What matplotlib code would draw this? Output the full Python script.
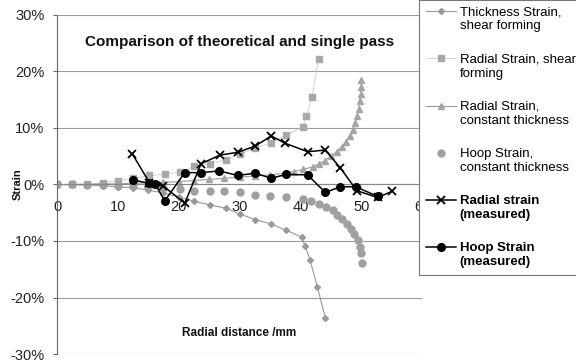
import matplotlib
matplotlib.use("Agg")
import matplotlib.pyplot as plt
from matplotlib.ticker import FuncFormatter

plt.rcParams['font.family'] = ['Liberation Sans', 'DejaVu Sans']

# thickness strain, shear forming (grey diamonds)
thick_x = [0, 2.5, 5, 7.5, 10, 12.5, 15, 17.5, 20, 22.6, 25.1, 27.8, 30, 32.6, 35.2, 37.7, 40.2, 40.8, 41.6, 42.8, 44.1]
thick_y = [0, -0.05, -0.1, -0.2, -0.4, -0.6, -1.0, -1.5, -2.2, -3.0, -3.6, -4.2, -5.2, -6.2, -7.0, -8.1, -9.3, -10.9, -13.4, -18.1, -23.6]

# radial strain, shear forming (grey squares)
rshear_x = [0, 2.5, 5, 7.5, 10, 12.5, 15.2, 17.7, 20.2, 22.6, 25.1, 27.8, 30.0, 32.6, 35.2, 37.7, 40.4, 41.0, 41.9, 43.0]
rshear_y = [0, 0, 0.1, 0.3, 0.7, 1.1, 1.6, 1.8, 2.2, 3.2, 3.7, 4.4, 5.4, 6.4, 7.4, 8.8, 10.2, 12.1, 15.5, 22.2]

# radial strain, constant thickness (grey triangles)
rconst_x = [0, 2.5, 5, 7.5, 10, 12.5, 15, 17.5, 20, 22.5, 25, 27.5, 30, 32.5, 35, 37.5, 39, 40.5, 42, 43, 44, 45,
            46, 46.8, 47.5, 48.1, 48.6, 49.0, 49.3, 49.6, 49.8, 49.9, 50.0, 50.0]
rconst_y = [0, 0, 0, 0.1, 0.1, 0.2, 0.3, 0.4, 0.5, 0.7, 0.9, 1.1, 1.3, 1.5, 1.7, 2.0, 2.3, 2.7, 3.1, 3.6, 4.2, 5.0,
            5.8, 6.7, 7.6, 8.6, 9.7, 10.9, 12.1, 13.4, 14.7, 16.0, 17.3, 18.5]

# hoop strain, constant thickness (grey circles)
hconst_x = [0, 2.5, 5, 7.5, 10, 12.5, 15, 17.5, 20.2, 22.6, 25.2, 27.5, 30.1, 32.6, 35.0, 37.7, 40.4, 41.7, 43.1,
            44.2, 45.3, 46.1, 46.9, 47.6, 48.3, 48.9, 49.4, 49.8, 49.9, 50.1]
hconst_y = [0, 0, -0.05, -0.1, -0.2, -0.3, -0.4, -0.6, -0.8, -1.1, -1.2, -1.2, -1.4, -1.8, -2.0, -2.3, -2.6, -2.9,
            -3.4, -4.0, -4.6, -5.4, -6.1, -7.0, -7.8, -8.7, -9.9, -11.1, -12.2, -13.9]

# measured radial strain (black x)
rmeas_x = [12.4, 15.2, 17.5, 21.0, 23.7, 26.8, 29.7, 32.6, 35.2, 37.5, 41.2, 44.1, 46.6, 49.3, 52.7, 55.1]
rmeas_y = [5.4, 0.3, -0.3, -3.3, 3.7, 5.2, 5.7, 6.8, 8.6, 7.3, 5.8, 6.1, 2.9, -1.1, -2.3, -1.2]

# measured hoop strain (black circles)
hmeas_x = [12.5, 15.2, 16.1, 17.7, 21.0, 23.6, 26.7, 29.7, 32.6, 35.2, 37.7, 41.2, 44.1, 46.6, 49.1, 52.7]
hmeas_y = [0.8, 0.2, 0.1, -2.9, 2.1, 2.1, 2.4, 1.6, 2.0, 1.1, 1.8, 1.7, -1.4, -0.4, -0.4, -2.1]

labels = ["Thickness Strain,\nshear forming", "Radial Strain, shear\nforming",
          "Radial Strain,\nconstant thickness", "Hoop Strain,\nconstant thickness",
          "Radial strain\n(measured)", "Hoop Strain\n(measured)"]

grey = '#999999'

fig = plt.figure(figsize=(5.76, 3.62), dpi=100)
ax = fig.add_axes([57 / 576, 1 - 354 / 362, 365 / 576, 339 / 362])

ax.plot(thick_x, thick_y, color=grey, lw=0.8, marker='D', ms=3, label=labels[0])
ax.plot(rshear_x, rshear_y, color='#cccccc', lw=0.6, marker='s', ms=4.8, mfc='#a8a8a8', mec='#a8a8a8', label=labels[1])
ax.plot(rconst_x, rconst_y, color=grey, lw=0.8, marker='^', ms=4.2, mfc='#a5a5a5', mec='#a5a5a5', label=labels[2])
ax.plot(hconst_x, hconst_y, ls='none', marker='o', ms=5, color='#a0a0a0', label=labels[3])
ax.plot(rmeas_x, rmeas_y, color='black', lw=1.1, marker='x', ms=5.5, mew=1.3, label=labels[4], zorder=5)
ax.plot(hmeas_x, hmeas_y, color='black', lw=1.1, marker='o', ms=5.5, label=labels[5], zorder=5)

ax.set_xlim(0, 60)
ax.set_ylim(-30, 30)
ax.set_yticks(range(-30, 31, 10))
ax.set_xticks(range(0, 61, 10))
ax.yaxis.set_major_formatter(FuncFormatter(lambda v, p: '%d%%' % v))
ax.grid(axis='y', color='#9a9a9a', lw=0.8)
ax.set_axisbelow(True)

for s in ['top', 'right']:
    ax.spines[s].set_visible(False)
ax.spines['bottom'].set_position(('data', 0))
ax.spines['bottom'].set_color('#888888')
ax.spines['left'].set_color('#666666')
ax.tick_params(axis='y', length=3, width=0.8, color='#666666', labelsize=10.5, labelcolor='#222222', pad=6)
ax.tick_params(axis='x', length=0, labelsize=10.5, labelcolor='#222222', pad=11)

ax.text(0.5, 0.92, "Comparison of theoretical and single pass", transform=ax.transAxes,
        ha='center', va='center', fontsize=11, fontweight='bold', color='#111111')
ax.text(0.5, 0.063, "Radial distance /mm", transform=ax.transAxes,
        ha='center', va='center', fontsize=8.5, fontweight='bold', color='#111111')
fig.text(18 / 576, 1 - 184 / 362, "Strain", rotation=90, ha='center', va='center',
         fontsize=8, fontweight='bold', color='#111111')

leg = fig.legend(loc='upper left', bbox_to_anchor=(419 / 576, 1.0), fontsize=9.5,
                 frameon=True, fancybox=False, edgecolor='#777777', framealpha=1,
                 borderpad=0.5, labelspacing=1.62, handlelength=2.27, handletextpad=0.3,
                 borderaxespad=0)
leg.get_frame().set_linewidth(0.8)
for t in leg.get_texts()[4:]:
    t.set_fontweight('bold')
# put the handle next to the first line of each label
if hasattr(leg, '_legend_handle_box'):
    for col in leg._legend_handle_box.get_children():
        for row in col.get_children():
            row.align = 'top'

fig.savefig('out.png', dpi=100)
